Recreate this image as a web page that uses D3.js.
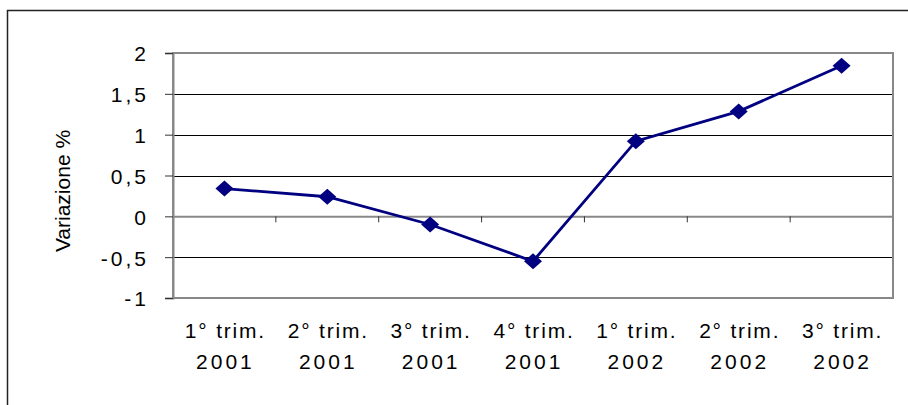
<!DOCTYPE html>
<html>
<head>
<meta charset="utf-8">
<script src="https://cdn.jsdelivr.net/npm/d3@7/dist/d3.min.js"></script>
<style>
  html, body { margin: 0; padding: 0; background: #fff; }
  svg { display: block; }
  text { font-family: "Liberation Sans", Arial, sans-serif; fill: #000; }
</style>
</head>
<body>
<svg id="chart" width="908" height="405"></svg>
<script>
const categories = [
  ["1° trim.", "2001"],
  ["2° trim.", "2001"],
  ["3° trim.", "2001"],
  ["4° trim.", "2001"],
  ["1° trim.", "2002"],
  ["2° trim.", "2002"],
  ["3° trim.", "2002"]
];
const values = [0.34, 0.24, -0.10, -0.55, 0.92, 1.285, 1.845];
const yTicks = [-1, -0.5, 0, 0.5, 1, 1.5, 2];
const yTickLabels = ["-1", "-0,5", "0", "0,5", "1", "1,5", "2"];
const yTitle = "Variazione %";

const svg = d3.select("#chart");
const W = 908, H = 405;
const m = { left: 173, right: 893, top: 53, bottom: 298 };

// outer chart border (only left and top visible)
svg.append("rect")
  .attr("x", 7.5).attr("y", 10.5)
  .attr("width", W + 20).attr("height", H + 20)
  .attr("fill", "none").attr("stroke", "#222").attr("stroke-width", 1.5);

const keys = categories.map((c, i) => i);
const x = d3.scaleBand().domain(keys).range([m.left, m.right]).padding(0);
const y = d3.scaleLinear().domain([-1, 2]).range([m.bottom, m.top]);

// gridlines
svg.append("g")
  .selectAll("line")
  .data(yTicks.filter(t => t !== 0 && t !== -1 && t !== 2))
  .join("line")
  .attr("x1", m.left).attr("x2", m.right)
  .attr("y1", d => Math.round(y(d)) + 0.5).attr("y2", d => Math.round(y(d)) + 0.5)
  .attr("stroke", "#000").attr("stroke-width", 1);

// plot area border (gray)
svg.append("rect")
  .attr("x", m.left).attr("y", m.top)
  .attr("width", m.right - m.left).attr("height", m.bottom - m.top)
  .attr("fill", "none").attr("stroke", "#888").attr("stroke-width", 2);

// y axis
const yAxis = d3.axisLeft(y)
  .tickValues(yTicks)
  .tickSize(8)
  .tickPadding(0)
  .tickFormat((d, i) => yTickLabels[i]);
const gy = svg.append("g").attr("transform", `translate(${m.left},0)`).call(yAxis);
gy.select(".domain").attr("stroke", "#888").attr("stroke-width", 2);
gy.selectAll(".tick line").attr("stroke", "#333").attr("stroke-width", 1);
gy.selectAll(".tick text")
  .attr("x", -24)
  .attr("dy", "0.38em")
  .style("font-size", "21px")
  .style("letter-spacing", "3px")
  .style("font-family", "'Liberation Sans', Arial, sans-serif");

// x axis at zero
const xAxis = d3.axisBottom(x).tickSize(0).tickFormat("");
const gx = svg.append("g").attr("transform", `translate(0,${y(0)})`).call(xAxis);
gx.select(".domain").attr("stroke", "#888").attr("stroke-width", 2);
gx.selectAll(".tick").remove();
// category boundary ticks
gx.selectAll(".bt")
  .data(keys.slice(1))
  .join("line")
  .attr("class", "bt")
  .attr("x1", d => x(d)).attr("x2", d => x(d))
  .attr("y1", 0).attr("y2", 6)
  .attr("stroke", "#333").attr("stroke-width", 1);

// category labels
const lab = svg.append("g");
keys.forEach(k => {
  const cx = x(k) + x.bandwidth() / 2 + 1;
  const t = lab.append("text")
    .attr("text-anchor", "middle")
    .style("font-size", "21px")
    .style("letter-spacing", "1.8px");
  t.append("tspan").attr("x", cx).attr("y", 338).text(categories[k][0]);
  t.append("tspan").attr("x", cx).attr("y", 369).style("letter-spacing", "3px").text(categories[k][1]);
});

// y title
svg.append("text")
  .attr("transform", `translate(70,191) rotate(-90)`)
  .attr("text-anchor", "middle")
  .style("font-size", "21px")
  .text(yTitle);

// line
const line = d3.line()
  .x((d, i) => x(i) + x.bandwidth() / 2)
  .y(d => y(d));
svg.append("path")
  .datum(values)
  .attr("d", line)
  .attr("fill", "none")
  .attr("stroke", "#000080")
  .attr("stroke-width", 2.8);

// diamond markers
svg.append("g")
  .selectAll("path")
  .data(values)
  .join("path")
  .attr("transform", (d, i) => `translate(${x(i) + x.bandwidth() / 2},${y(d)})`)
  .attr("d", "M0,-8L9,0L0,8L-9,0Z")
  .attr("fill", "#000080");
</script>
</body>
</html>
